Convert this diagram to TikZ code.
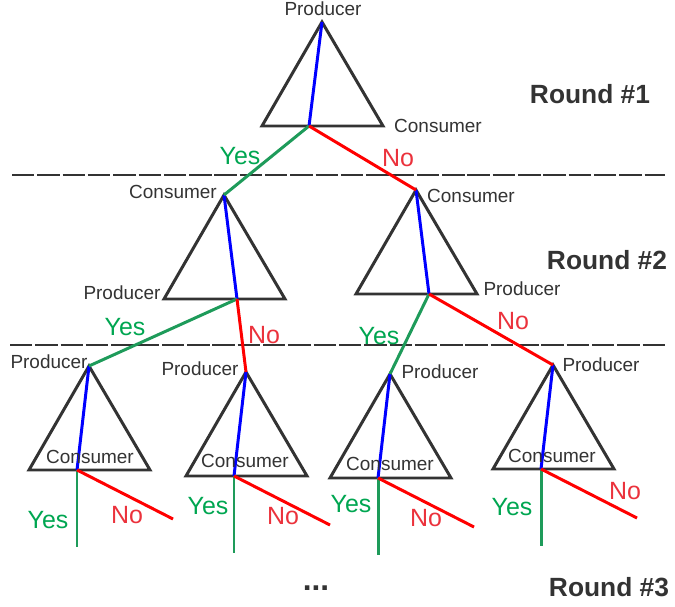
\documentclass[tikz,border=0pt]{standalone}
\usepackage{fontspec}
\setmainfont{Liberation Sans}
\usetikzlibrary{calc}
\definecolor{inkgray}{RGB}{51,51,51}
\definecolor{yesgreen}{RGB}{0,166,81}
\definecolor{yesline}{RGB}{30,155,90}
\definecolor{nored}{RGB}{235,50,60}
\tikzset{
  tri/.style={draw=inkgray, line width=1.7pt, line join=miter},
  bluepath/.style={draw=blue, line width=1.7pt},
  yespath/.style={draw=yesline, line width=1.7pt},
  nopath/.style={draw=red, line width=1.7pt},
  role/.style={text=inkgray, inner sep=0pt, font=\fontsize{10.8}{12}\selectfont},
  yeslbl/.style={text=yesgreen, inner sep=0pt, font=\fontsize{14.2}{16}\selectfont},
  nolbl/.style={text=nored, inner sep=0pt, font=\fontsize{14.2}{16}\selectfont},
  roundlbl/.style={text=inkgray, inner sep=0pt, font=\fontsize{15}{17}\selectfont\bfseries},
  divider/.style={draw=inkgray, line width=1.1pt, dash pattern=on 12.8pt off 1.6pt}
}
\begin{document}
\begin{tikzpicture}[x=0.02cm, y=-0.02cm]
        \useasboundingbox (0,0) rectangle (675,607);
        % dividers between rounds
        \draw[divider] (12,175) -- (665,175);
        \draw[divider] (10,345) -- (665,345);
        % triangles: name/apex x/apex y/offset of the base point
        \foreach \n/\x/\y/\d in {t1/322/22/-13, t2/224/195/13, t3/416/190/13,
            t4/89/366/-12, t5/246/372/-12, t6/390/374/-12, t7/553/365/-12} {
            \coordinate (\n) at (\x,\y);
            \coordinate (\n b) at (\x+\d,\y+104);
            \draw[tri] (\x-60,\y+104) -- (\x,\y) -- (\x+61,\y+104) -- cycle;
            \draw[bluepath] (\n) -- (\n b);
        }
        % free ends of the last round
        \foreach \n in {t4,t5,t6,t7} {
            \coordinate (\n y) at ($(\n b)+(0,77)$);
            \coordinate (\n n) at ($(\n b)+(96,49)$);
            \draw[yespath] (\n b) -- (\n y);
            \draw[nopath] (\n b) -- (\n n);
        }
        \draw[yespath] (t1b) -- (t2);
        \draw[nopath] (t1b) -- (t3);
        \draw[yespath] (t2b) -- (t4);
        \draw[nopath] (t2b) -- (t5);
        \draw[yespath] (t3b) -- (t6);
        \draw[nopath] (t3b) -- (t7);
        % roles
        \node[role] (p1) at (323,9) {Producer};
        \node[role] (c1) at (438,126) {Consumer};
        \node[role] (c2) at (173,192) {Consumer};
        \node[role] (p2) at (122,293) {Producer};
        \node[role] (c3) at (471,196) {Consumer};
        \node[role] (p3) at (522,289) {Producer};
        \node[role] (p4) at (49,362) {Producer};
        \node[role] (c4) at (90,457) {Consumer};
        \node[role] (p5) at (200,369) {Producer};
        \node[role] (c5) at (245,461) {Consumer};
        \node[role] (p6) at (440,372) {Producer};
        \node[role] (c6) at (390,464) {Consumer};
        \node[role] (p7) at (601,365) {Producer};
        \node[role] (c7) at (552,456) {Consumer};
        % answers
        \node[yeslbl] (y1) at (240,156) {Yes};
        \node[nolbl] (n1) at (398,158) {No};
        \node[yeslbl] (y2) at (125,327) {Yes};
        \node[nolbl] (n2) at (264,335) {No};
        \node[yeslbl] (y3) at (379,336) {Yes};
        \node[nolbl] (n3) at (513,321) {No};
        \node[yeslbl] (y4) at (48,520) {Yes};
        \node[nolbl] (n4) at (127,515) {No};
        \node[yeslbl] (y5) at (208,506) {Yes};
        \node[nolbl] (n5) at (283,516) {No};
        \node[yeslbl] (y6) at (351,504) {Yes};
        \node[nolbl] (n6) at (426,518) {No};
        \node[yeslbl] (y7) at (512,507) {Yes};
        \node[nolbl] (n7) at (625,491) {No};
        % rounds
        \node[roundlbl] (r1) at (590,94) {Round \#1};
        \node[roundlbl] (r2) at (607,260) {Round \#2};
        \node[roundlbl] (r3) at (609,587) {Round \#3};
        \node[roundlbl, font=\fontsize{18}{20}\selectfont\bfseries] (more) at (316,588) {...};
\end{tikzpicture}
\end{document}
